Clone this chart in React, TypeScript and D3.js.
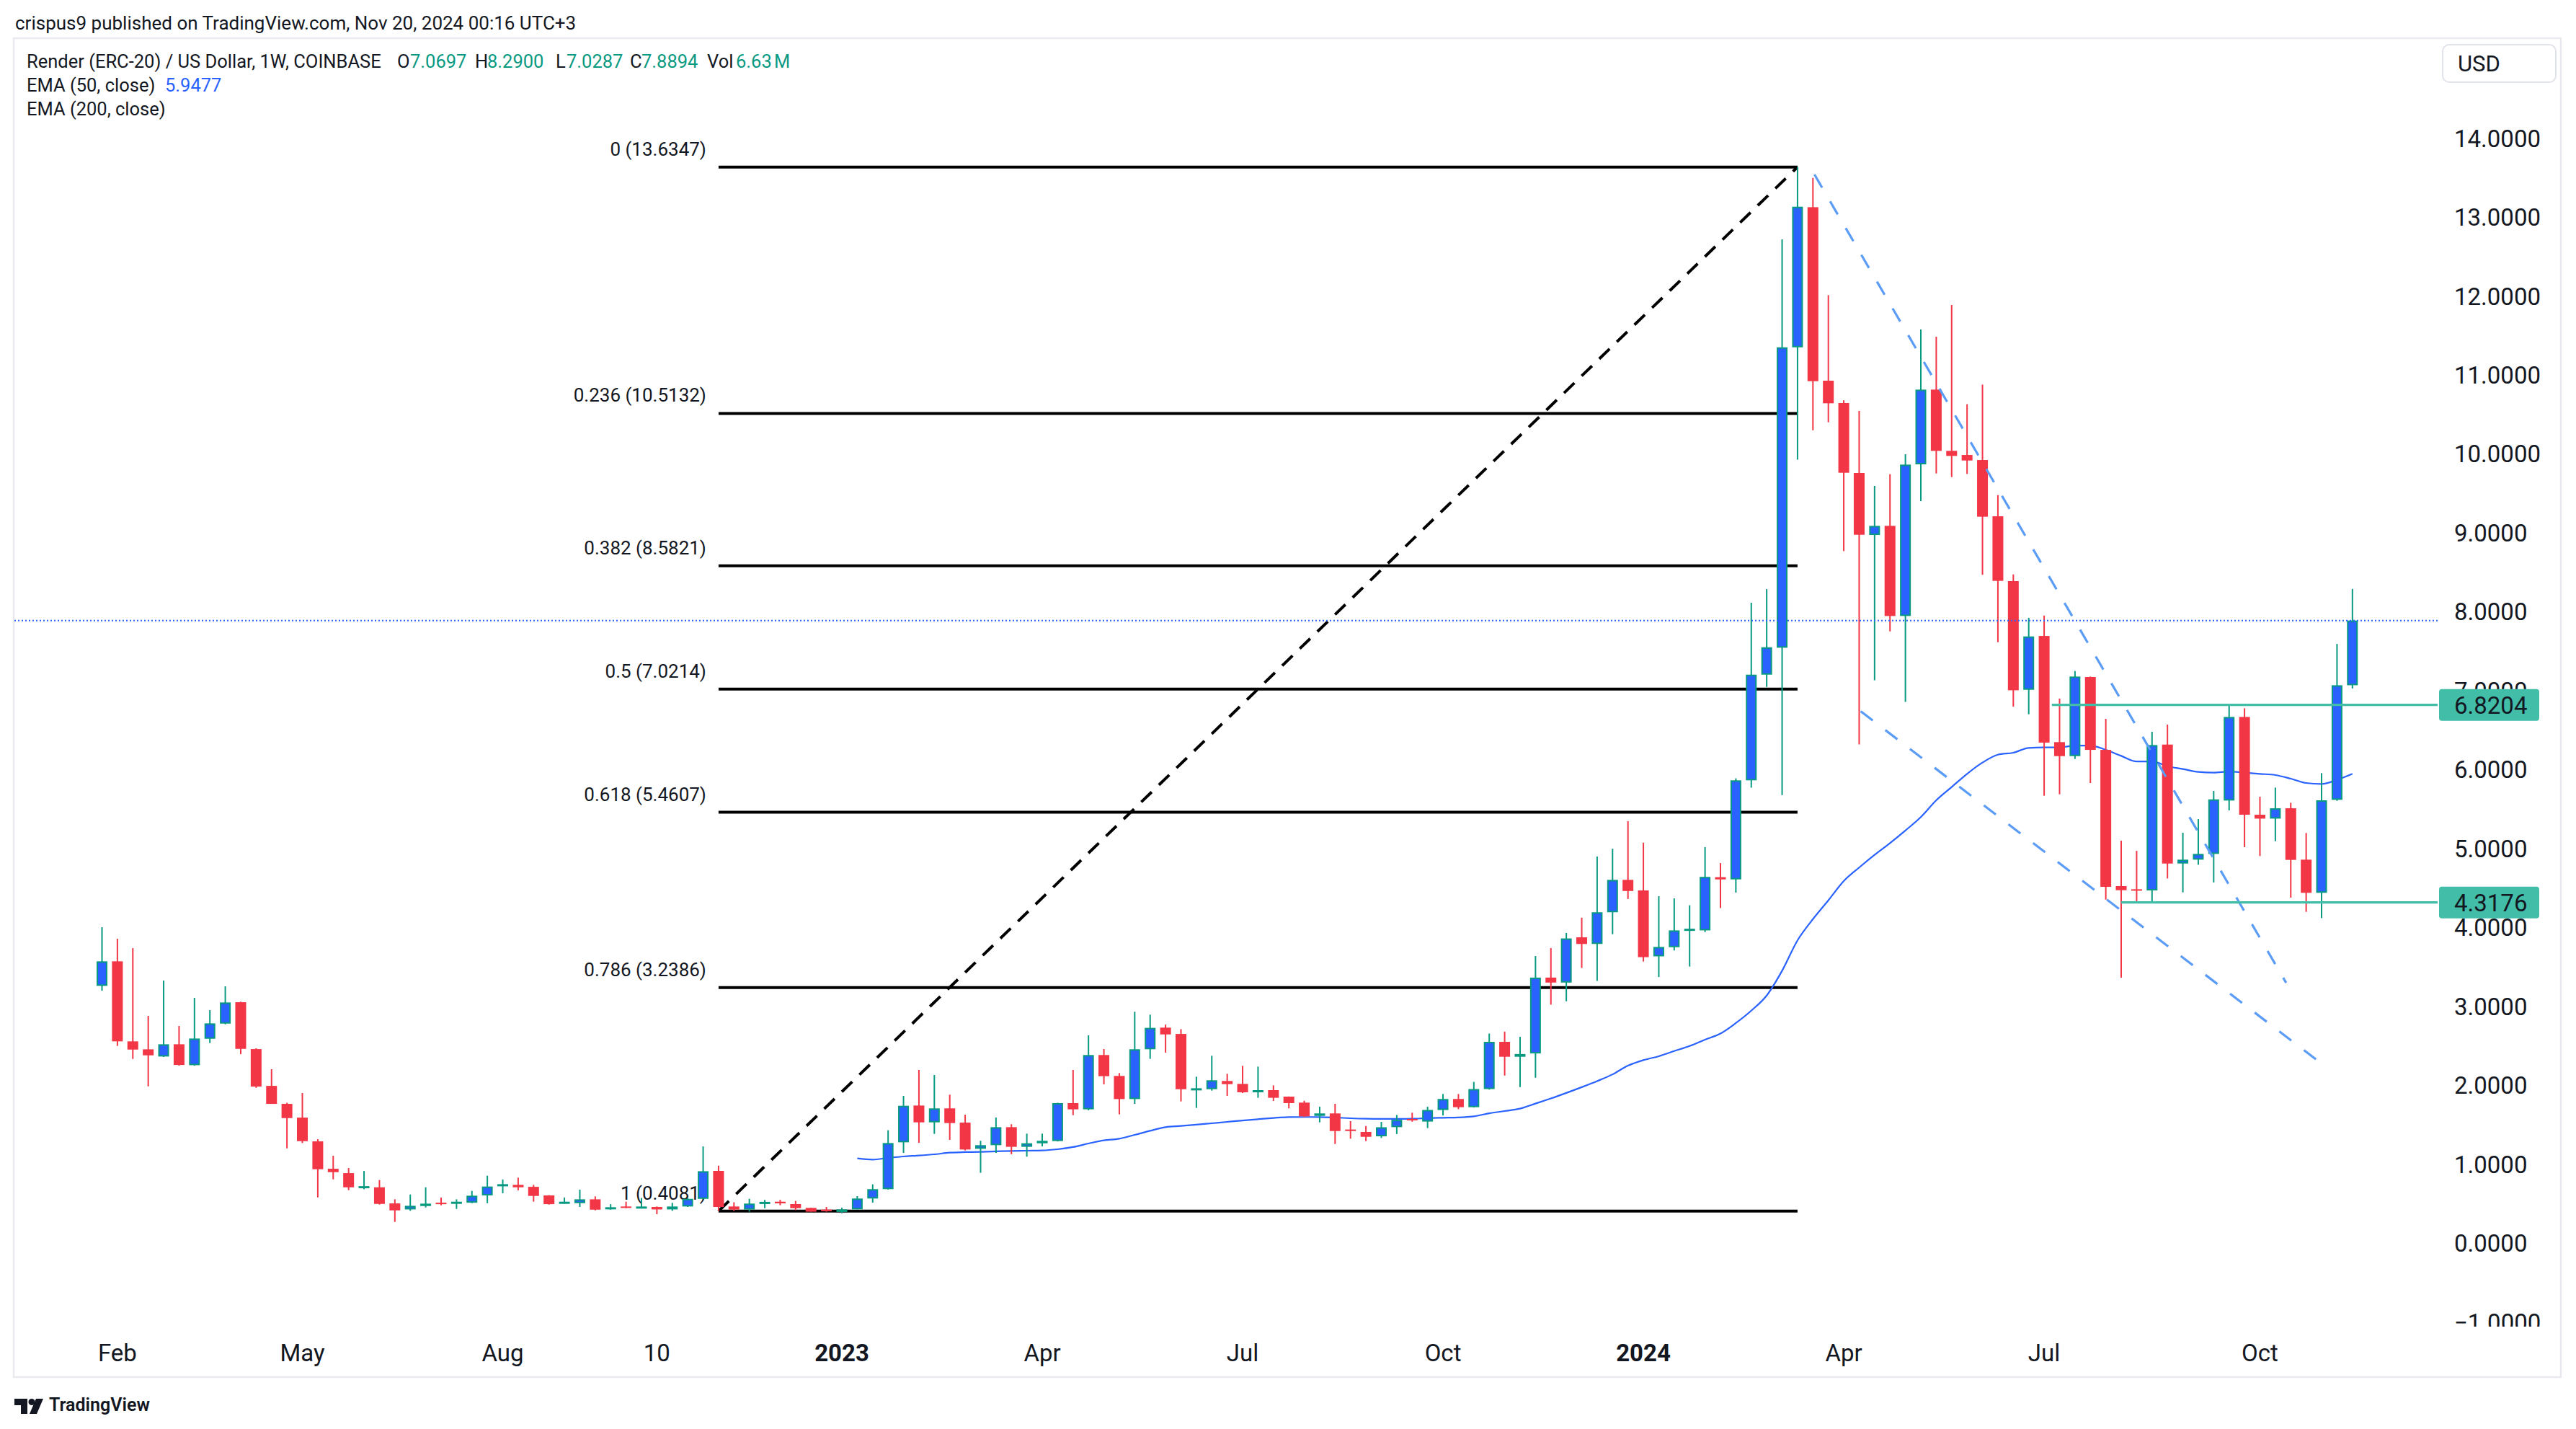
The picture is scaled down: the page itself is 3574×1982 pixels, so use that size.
import React from "react";
import * as d3 from "d3";

// ---------- data (weekly bars, Jan 31 2022 .. Nov 18 2024) ----------
const opens = [
  3.261, 3.572, 2.558, 2.457, 2.366, 2.521, 2.256, 2.591, 2.783, 3.054,
  2.46, 1.994, 1.766, 1.592, 1.291, 0.944, 0.889, 0.709, 0.709, 0.505,
  0.429, 0.472, 0.514, 0.514, 0.514, 0.606, 0.74, 0.74, 0.715, 0.606,
  0.508, 0.508, 0.557, 0.432, 0.466, 0.457, 0.46, 0.429, 0.466, 0.563,
  0.917, 0.466, 0.427, 0.51, 0.527, 0.497, 0.448, 0.427, 0.397, 0.43,
  0.567, 0.686, 1.279, 1.745, 1.532, 1.709, 1.529, 1.197, 1.243, 1.471,
  1.222, 1.267, 1.295, 1.776, 1.697, 2.385, 2.12, 1.827, 2.458, 2.732,
  2.652, 1.952, 1.952, 2.056, 2.019, 1.922, 1.94, 1.858, 1.782, 1.614,
  1.645, 1.441, 1.41, 1.355, 1.471, 1.575, 1.542, 1.688, 1.828, 1.724,
  1.954, 2.552, 2.363, 2.405, 3.366, 3.303, 3.876, 3.792, 4.194, 4.604,
  4.47, 3.635, 3.751, 3.971, 3.964, 4.638, 4.61, 5.865, 7.204, 7.545,
  11.351, 13.126, 10.928, 10.645, 9.759, 8.973, 9.089, 7.947, 9.868, 10.815,
  10.039, 9.987, 9.923, 9.21, 8.389, 7.012, 7.694, 6.349, 6.172, 7.174,
  6.251, 4.525, 4.485, 4.47, 6.318, 4.811, 4.86, 4.933, 5.609, 6.668,
  5.429, 5.38, 5.511, 4.86, 4.44, 5.618, 7.0697,
];
const highs = [
  4.004, 3.858, 3.739, 2.881, 3.328, 2.753, 3.109, 2.954, 3.255, 3.06,
  2.47, 2.205, 1.78, 1.903, 1.318, 1.108, 0.953, 0.916, 0.801, 0.557,
  0.618, 0.709, 0.579, 0.557, 0.664, 0.856, 0.807, 0.831, 0.74, 0.61,
  0.579, 0.679, 0.594, 0.496, 0.527, 0.573, 0.466, 0.512, 0.573, 1.227,
  0.983, 0.52, 0.563, 0.55, 0.55, 0.537, 0.45, 0.46, 0.45, 0.597,
  0.747, 1.432, 1.867, 2.196, 2.132, 1.882, 1.629, 1.298, 1.593, 1.508,
  1.389, 1.389, 1.78, 2.196, 2.634, 2.461, 2.156, 2.933, 2.896, 2.771,
  2.713, 2.11, 2.376, 2.147, 2.248, 2.238, 2.001, 1.86, 1.806, 1.73,
  1.767, 1.547, 1.486, 1.538, 1.625, 1.654, 1.73, 1.891, 1.891, 2.045,
  2.657, 2.681, 2.615, 3.639, 3.74, 3.932, 4.125, 4.9, 4.998, 5.348,
  5.075, 4.397, 4.369, 4.282, 5.019, 4.817, 5.89, 8.115, 8.288, 12.718,
  13.6347, 13.498, 12.012, 10.68, 10.545, 9.594, 9.744, 9.996, 11.577, 11.485,
  11.887, 10.63, 10.879, 9.479, 8.474, 7.924, 7.952, 6.9, 7.25, 7.18,
  6.644, 5.1, 4.972, 6.48, 6.571, 5.201, 5.374, 5.731, 6.8204, 6.778,
  5.657, 5.773, 5.581, 5.198, 5.956, 7.593, 8.29,
];
const lows = [
  3.2, 2.5, 2.335, 1.988, 2.36, 2.25, 2.25, 2.536, 2.774, 2.396,
  1.97, 1.766, 1.203, 1.27, 0.581, 0.81, 0.673, 0.685, 0.49, 0.271,
  0.411, 0.454, 0.481, 0.435, 0.508, 0.508, 0.633, 0.67, 0.527, 0.49,
  0.502, 0.46, 0.417, 0.426, 0.445, 0.448, 0.368, 0.411, 0.46, 0.56,
  0.4081, 0.41, 0.4, 0.445, 0.482, 0.42, 0.4, 0.4, 0.38, 0.43,
  0.515, 0.68, 1.145, 1.273, 1.386, 1.31, 1.176, 0.893, 1.145, 1.127,
  1.097, 1.228, 1.29, 1.623, 1.684, 2.013, 1.633, 1.766, 2.336, 2.415,
  1.797, 1.715, 1.934, 1.867, 1.903, 1.843, 1.803, 1.709, 1.599, 1.532,
  1.258, 1.325, 1.295, 1.334, 1.384, 1.541, 1.46, 1.619, 1.699, 1.72,
  1.947, 2.125, 1.979, 2.097, 3.023, 3.066, 3.488, 3.324, 3.915, 4.362,
  3.569, 3.373, 3.709, 3.506, 3.943, 4.247, 4.443, 5.773, 7.049, 5.679,
  9.929, 10.301, 10.401, 8.769, 6.321, 7.134, 7.752, 6.86, 9.403, 9.753,
  9.707, 9.747, 8.468, 7.615, 6.799, 6.702, 5.67, 5.688, 6.136, 5.831,
  4.354, 3.365, 4.309, 4.3176, 4.622, 4.446, 4.796, 4.571, 5.484, 5.018,
  4.906, 5.094, 4.379, 4.199, 4.12, 5.606, 7.0287,
];
const closes = [
  3.572, 2.558, 2.454, 2.381, 2.521, 2.259, 2.594, 2.786, 3.051, 2.463,
  1.985, 1.766, 1.586, 1.294, 0.938, 0.901, 0.709, 0.724, 0.499, 0.417,
  0.475, 0.502, 0.502, 0.527, 0.603, 0.719, 0.749, 0.709, 0.6, 0.496,
  0.527, 0.557, 0.426, 0.457, 0.454, 0.466, 0.429, 0.466, 0.563, 0.913,
  0.46, 0.427, 0.503, 0.525, 0.506, 0.445, 0.4, 0.405, 0.43, 0.567,
  0.686, 1.27, 1.742, 1.532, 1.709, 1.523, 1.188, 1.243, 1.471, 1.222,
  1.267, 1.298, 1.776, 1.697, 2.385, 2.117, 1.827, 2.458, 2.729, 2.646,
  1.952, 1.964, 2.065, 2.016, 1.913, 1.94, 1.843, 1.776, 1.608, 1.645,
  1.422, 1.422, 1.349, 1.47, 1.564, 1.558, 1.689, 1.828, 1.724, 1.954,
  2.552, 2.363, 2.398, 3.366, 3.303, 3.862, 3.792, 4.194, 4.604, 4.463,
  3.625, 3.754, 3.964, 3.985, 4.642, 4.61, 5.865, 7.204, 7.551, 11.351,
  13.132, 10.922, 10.642, 9.762, 8.976, 9.089, 7.947, 9.865, 10.815, 10.039,
  9.975, 9.917, 9.205, 8.392, 7.006, 7.688, 6.343, 6.172, 7.18, 6.251,
  4.516, 4.473, 4.476, 6.312, 4.811, 4.86, 4.933, 5.624, 6.668, 5.429,
  5.38, 5.511, 4.857, 4.44, 5.612, 7.0697, 7.8894,
];

// EMA(50, close), starting at bar 49
const emaStart = 49;
const ema50 = [
  1.075, 1.06, 1.081, 1.1, 1.112, 1.127, 1.148, 1.155, 1.158, 1.164,
  1.17, 1.173, 1.176, 1.191, 1.219, 1.264, 1.304, 1.325, 1.374, 1.425,
  1.471, 1.486, 1.502, 1.52, 1.538, 1.556, 1.572, 1.587, 1.599, 1.6,
  1.599, 1.593, 1.584, 1.578, 1.576, 1.575, 1.578, 1.585, 1.59, 1.594,
  1.608, 1.646, 1.675, 1.706, 1.77, 1.835, 1.905, 1.978, 2.055, 2.14,
  2.25, 2.32, 2.37, 2.435, 2.5, 2.58, 2.657, 2.79, 2.947, 3.139,
  3.453, 3.838, 4.107, 4.345, 4.589, 4.76, 4.921, 5.07, 5.23, 5.4,
  5.612, 5.78, 5.947, 6.09, 6.19, 6.215, 6.276, 6.282, 6.282, 6.306,
  6.306, 6.251, 6.175, 6.105, 6.105, 6.044, 6.008, 5.971, 5.962, 5.977,
  5.962, 5.947, 5.932, 5.886, 5.831, 5.819, 5.871, 5.9477,
];

const priceTicks = [-1, 0, 1, 2, 3, 4, 5, 6, 7, 8, 9, 10, 11, 12, 13, 14];
const timeTickBars = [1, 13, 26, 36, 48, 61, 74, 87, 100, 113, 126, 140];
const timeTickLabels = ["Feb", "May", "Aug", "10", "2023", "Apr", "Jul", "Oct", "2024", "Apr", "Jul", "Oct"];
const timeTickBold = [false, false, false, false, true, false, false, false, true, false, false, false];

const fibRatios = ["0", "0.236", "0.382", "0.5", "0.618", "0.786", "1"];
const fibPrices = [13.6347, 10.5132, 8.5821, 7.0214, 5.4607, 3.2386, 0.4081];
const fibStartBar = 40;
const fibEndBar = 110;

const levelPrices = [6.8204, 4.3176];
const levelStartBars = [126.5, 131];

// hand-drawn dashed trend lines: [bar, price] pairs
const trendLineA = [[111.1, 13.54], [141.7, 3.3]];
const trendLineB = [[114.1, 6.74], [144.1, 2.26]];

const lastClose = 7.8894;

// ---------- layout ----------
const W = 3574;
const H = 1982;
const paneL = 20;
const paneR = 3382;
const paneT = 54;
const paneB = 1840;

const UP_FILL = "#2962ff";
const UP_LINE = "#089981";
const DOWN = "#f23645";
const TEXT = "#131722";
const TEAL = "#42bda8";
const FONT = "Roboto, 'Noto Sans', sans-serif";

export default function App() {
  const x = d3.scaleLinear().domain([0, 146]).range([141.5, 3263.8]);
  const y = d3.scaleLinear().domain([0, 14]).range([1724.4, 191.7]);
  const bodyW = 15;

  const emaLine = d3
    .line<number>()
    .x((_, k) => x(emaStart + k))
    .y((v) => y(v))
    .curve(d3.curveMonotoneX)(ema50) || "";

  const fmt = (v: number) => (v < 0 ? "\u2212" + Math.abs(v).toFixed(4) : v.toFixed(4));

  return (
    <div style={{ position: "absolute", left: 0, top: 0, width: W, height: H, background: "#fff" }}>
      <svg width={W} height={H} viewBox={`0 0 ${W} ${H}`} style={{ display: "block", fontFamily: FONT }}>
        <defs>
          <clipPath id="pane">
            <rect x={paneL} y={paneT} width={paneR - paneL} height={paneB - paneT} />
          </clipPath>
          <clipPath id="axis">
            <rect x={paneR} y={paneT} width={3553 - paneR} height={paneB - paneT} />
          </clipPath>
        </defs>
        <rect x={0} y={0} width={W} height={H} fill="#ffffff" />

        {/* header */}
        <text x={21} y={41} fontSize={26} fill={TEXT}>
          crispus9 published on TradingView.com, Nov 20, 2024 00:16 UTC+3
        </text>

        {/* frame */}
        <rect x={19} y={53} width={3534} height={1857} fill="none" stroke="#e9eaef" strokeWidth={2.5} />

        <g clipPath="url(#pane)">
          {/* fib levels */}
          {fibPrices.map((p, k) => (
            <g key={"fib" + k}>
              <line x1={x(fibStartBar)} x2={x(fibEndBar)} y1={y(p)} y2={y(p)} stroke="#000" strokeWidth={4} />
              <text x={x(fibStartBar) - 17} y={y(p) - 16} fontSize={26} textAnchor="end" fill={TEXT}>
                {`${fibRatios[k]} (${p.toFixed(4)})`}
              </text>
            </g>
          ))}
          {/* fib diagonal */}
          <line
            x1={x(fibStartBar)}
            y1={y(fibPrices[6])}
            x2={x(fibEndBar)}
            y2={y(fibPrices[0])}
            stroke="#000"
            strokeWidth={4}
            strokeDasharray="20 14"
          />

          {/* EMA 50 */}
          <path d={emaLine} fill="none" stroke="#2962ff" strokeWidth={2.2} />

          {/* candles */}
          {opens.map((o, i) => {
            const c = closes[i];
            const up = c >= o;
            const cx = x(i);
            const top = y(Math.max(o, c));
            const bot = y(Math.min(o, c));
            const h = Math.max(bot - top, 2);
            return (
              <g key={"c" + i}>
                <line x1={cx} x2={cx} y1={y(highs[i])} y2={y(lows[i])} stroke={up ? UP_LINE : DOWN} strokeWidth={2} />
                {up ? (
                  <rect x={cx - bodyW / 2 + 1} y={top + 1} width={bodyW - 2} height={Math.max(h - 2, 1)} fill={UP_FILL} stroke={UP_LINE} strokeWidth={2} />
                ) : (
                  <rect x={cx - bodyW / 2} y={top} width={bodyW} height={h} fill={DOWN} />
                )}
              </g>
            );
          })}

          {/* trend lines */}
          {[trendLineA, trendLineB].map((ln, k) => (
            <line
              key={"tl" + k}
              x1={x(ln[0][0])}
              y1={y(ln[0][1])}
              x2={x(ln[1][0])}
              y2={y(ln[1][1])}
              stroke="#5b9cf6"
              strokeWidth={3.2}
              strokeDasharray="21 22"
            />
          ))}

          {/* horizontal levels */}
          {levelPrices.map((p, k) => (
            <line key={"lv" + k} x1={x(levelStartBars[k])} x2={paneR} y1={y(p)} y2={y(p)} stroke={TEAL} strokeWidth={3.3} />
          ))}

          {/* last price dotted line */}
          <line x1={paneL} x2={paneR} y1={y(lastClose)} y2={y(lastClose)} stroke="#2962ff" strokeWidth={2} strokeDasharray="2 3" />
        </g>

        {/* price axis */}
        <g clipPath="url(#axis)">
          {priceTicks.map((t) => (
            <text key={"pt" + t} x={3405} y={y(t)} dy="0.36em" fontSize={33} fill={TEXT}>
              {fmt(t)}
            </text>
          ))}
          {levelPrices.map((p, k) => (
            <g key={"lb" + k}>
              <rect x={3384} y={y(p) - 22} width={139} height={44} rx={4} fill={TEAL} />
              <text x={3405} y={y(p)} dy="0.36em" fontSize={33} fill={TEXT}>
                {p.toFixed(4)}
              </text>
            </g>
          ))}
        </g>

        {/* USD box */}
        <rect x={3389} y={62} width={157} height={52} rx={9} fill="#fff" stroke="#e0e3eb" strokeWidth={2} />
        <text x={3410} y={88} dy="0.36em" fontSize={31} fill={TEXT}>
          USD
        </text>

        {/* time axis */}
        {timeTickBars.map((b, k) => (
          <text
            key={"tt" + k}
            x={x(b)}
            y={1876}
            dy="0.36em"
            textAnchor="middle"
            fontSize={33}
            fontWeight={timeTickBold[k] ? 700 : 400}
            fill={TEXT}
          >
            {timeTickLabels[k]}
          </text>
        ))}

        {/* legend */}
        <g fontSize={25.5} fill={TEXT}>
          <text x={37} y={94}>Render (ERC-20) / US Dollar, 1W, COINBASE</text>
          <text x={551} y={94}>O</text>
          <text x={569} y={94} fill={UP_LINE}>{opens[146].toFixed(4)}</text>
          <text x={659} y={94}>H</text>
          <text x={676} y={94} fill={UP_LINE}>{highs[146].toFixed(4)}</text>
          <text x={771} y={94}>L</text>
          <text x={786} y={94} fill={UP_LINE}>{lows[146].toFixed(4)}</text>
          <text x={874} y={94}>C</text>
          <text x={890} y={94} fill={UP_LINE}>{closes[146].toFixed(4)}</text>
          <text x={981} y={94}>Vol</text>
          <text x={1021} y={94} fill={UP_LINE}>6.63{"\u202f"}M</text>
          <text x={37} y={127}>EMA (50, close)</text>
          <text x={229} y={127} fill="#2962ff">{ema50[ema50.length - 1].toFixed(4)}</text>
          <text x={37} y={160}>EMA (200, close)</text>
        </g>

        {/* TradingView logo */}
        <g fill={TEXT}>
          <path d="M20 1940 h18 v21 h-9 v-12 h-9 z" />
          <circle cx={44} cy={1944.5} r={4.5} />
          <path d="M50 1940 h10 l-9 21 h-10 z" />
          <text x={68} y={1957} fontSize={25} fontWeight={600}>TradingView</text>
        </g>
      </svg>
    </div>
  );
}
